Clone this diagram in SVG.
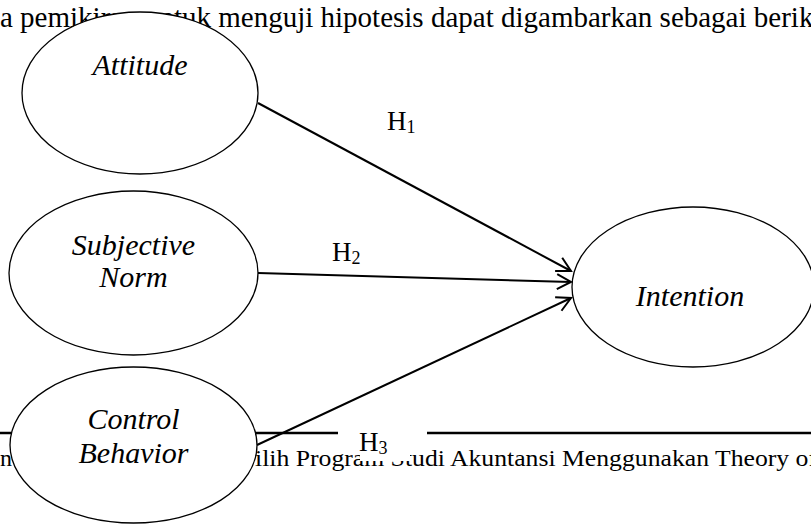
<svg xmlns="http://www.w3.org/2000/svg" width="811" height="524" viewBox="0 0 811 524">
  <style>
    .page { font-family: "Liberation Serif", "Times New Roman", serif; fill: #000; }
    .node ellipse { fill: #fff; stroke: #000; stroke-width: 1.3; }
    .label { font-family: "Liberation Serif", "Times New Roman", serif; font-style: italic; font-size: 30px; text-anchor: middle; fill: #000; }
    .conn { stroke: #000; stroke-width: 2; fill: none; marker-end: url(#arrow); }
    .hyp { font-family: "Liberation Serif", "Times New Roman", serif; font-size: 27px; fill: #000; }
    .rule { stroke: #000; stroke-width: 2.4; }
  </style>
  <defs>
    <marker id="arrow" markerUnits="userSpaceOnUse" markerWidth="20" markerHeight="20" refX="16" refY="9" orient="auto">
      <path d="M2,1.5 L16,9 L2,16.5" fill="none" stroke="#000" stroke-width="2"/>
    </marker>
  </defs>
  <rect width="811" height="524" fill="#fff"/>

  <g id="page-header">
    <text class="page" x="0" y="27" font-size="29">a pemikiran untuk menguji hipotesis dapat digambarkan sebagai berik</text>
  </g>

  <g id="node-attitude" class="node">
    <ellipse cx="140" cy="93" rx="118" ry="81"/>
    <text class="label" x="140" y="75">Attitude</text>
  </g>

  <g id="page-footer">
    <line class="rule" x1="0" y1="433" x2="338" y2="433"/>
    <line class="rule" x1="427" y1="433" x2="811" y2="433"/>
    <text class="page" x="0" y="466" font-size="24">n</text>
    <text class="page" x="255" y="466" font-size="24" textLength="562" lengthAdjust="spacingAndGlyphs">ilih Program Studi Akuntansi Menggunakan  Theory of</text>
  </g>

  <g id="node-subjective-norm" class="node">
    <ellipse cx="133.5" cy="273" rx="124.5" ry="82"/>
    <text class="label" x="133.5" y="255">Subjective</text>
    <text class="label" x="133.5" y="287">Norm</text>
  </g>

  <g id="node-control-behavior" class="node">
    <ellipse cx="133.5" cy="445" rx="123.5" ry="78"/>
    <text class="label" x="133.5" y="429">Control</text>
    <text class="label" x="133.5" y="463">Behavior</text>
  </g>

  <g id="node-intention" class="node">
    <ellipse cx="693" cy="287" rx="121" ry="80"/>
    <text class="label" x="690" y="306" font-size="35">Intention</text>
  </g>

  <g id="connectors">
    <line class="conn" x1="258" y1="103" x2="571" y2="271"/>
    <line class="conn" x1="258" y1="273" x2="571" y2="282"/>
    <line class="conn" x1="257" y1="445" x2="571" y2="298"/>
  </g>

  <g id="hypothesis-labels">
    <rect x="338" y="426" width="89" height="14" fill="#fff"/>
    <rect x="360" y="430" width="50" height="31" fill="#fff"/>
    <text class="hyp" x="387" y="130">H<tspan font-size="18" dy="3">1</tspan></text>
    <text class="hyp" x="332" y="261">H<tspan font-size="18" dy="3">2</tspan></text>
    <text class="hyp" x="359" y="451">H<tspan font-size="18" dy="3">3</tspan></text>
  </g>
</svg>
